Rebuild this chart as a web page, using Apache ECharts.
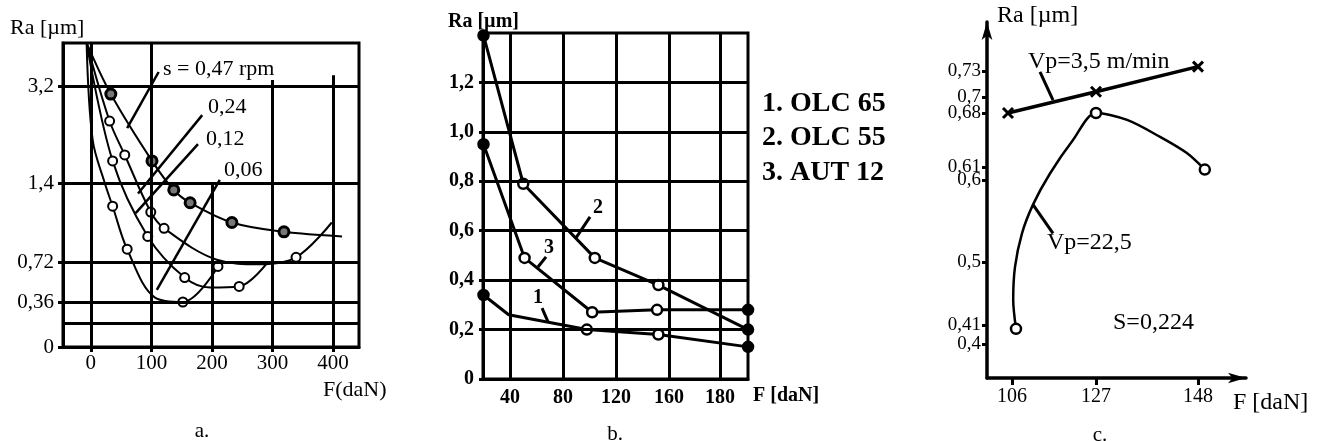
<!DOCTYPE html>
<html>
<head>
<meta charset="utf-8">
<script src="https://cdn.jsdelivr.net/npm/echarts@6/dist/echarts.min.js"></script>
<style>
html,body{margin:0;padding:0;background:#fff;}
#chart{width:1322px;height:441px;}
</style>
</head>
<body>
<div id="chart"></div>
<script>
// ================= DATA =================
// ---- Panel a: Ra vs F for several feeds s ----
const aXTicks = [0, 100, 200, 300, 400];
const aXLabels = ['0', '100', '200', '300', '400'];
const aYTicks = [0, 0.36, 0.72, 1.4, 3.2];
const aYLabels = ['0', '0,36', '0,72', '1,4', '3,2'];
const aYExtraLine = 0.19;

const a047F  = [-7, 33, 101, 137, 164, 233, 319, 415];
const a047Ra = [4.0, 3.05, 1.81, 1.34, 1.23, 1.06, 0.98, 0.94];
const a047PtF  = [33, 101, 137, 164, 233, 319];
const a047PtRa = [3.05, 1.81, 1.34, 1.23, 1.06, 0.98];

const a024F  = [-7, 31, 56, 99, 121, 208, 279, 339, 398];
const a024Ra = [4.0, 2.55, 1.92, 1.15, 1.01, 0.74, 0.70, 0.76, 1.06];
const a024PtF  = [31, 56, 99, 121, 339];
const a024PtRa = [2.55, 1.92, 1.15, 1.01, 0.76];

const a012F  = [-7, 36, 94, 155, 197, 245, 291];
const a012Ra = [4.0, 1.81, 0.94, 0.58, 0.49, 0.50, 0.71];
const a012PtF  = [36, 94, 155, 245];
const a012PtRa = [1.81, 0.94, 0.58, 0.50];

const a006F  = [-7, 3, 23, 36, 60, 106, 152, 210];
const a006Ra = [4.0, 2.2, 1.4, 1.2, 0.83, 0.40, 0.36, 0.68];
const a006PtF  = [36, 60, 152, 210];
const a006PtRa = [1.2, 0.83, 0.36, 0.68];

// ---- Panel b: three steels ----
const bXTicks = [40, 80, 120, 160, 180];
const bXLabels = ['40', '80', '120', '160', '180'];
const bYTicks = [0, 0.2, 0.4, 0.6, 0.8, 1.0, 1.2];
const bYLabels = ['0', '0,2', '0,4', '0,6', '0,8', '1,0', '1,2'];
const bLegend = ['1. OLC 65', '2. OLC 55', '3. AUT 12'];

const b1F  = [20, 39, 98, 152, 191];
const b1Ra = [0.34, 0.26, 0.20, 0.18, 0.13];
const b1PtF  = [20, 98, 152, 191];
const b1PtRa = [0.34, 0.20, 0.18, 0.13];

const b2F  = [20, 50, 104, 152, 191];
const b2Ra = [1.39, 0.79, 0.49, 0.38, 0.20];

const b3F  = [20, 51, 102, 151, 191];
const b3Ra = [0.95, 0.49, 0.27, 0.28, 0.28];

// ---- Panel c: two cutting speeds ----
const cXTicks = [106, 127, 148];
const cXLabels = ['106', '127', '148'];
const cYTicks = [0.4, 0.41, 0.5, 0.6, 0.61, 0.68, 0.7, 0.73];
const cYLabels = ['0,4', '0,41', '0,5', '0,6', '0,61', '0,68', '0,7', '0,73'];

const cV35F  = [105, 127, 148];
const cV35Ra = [0.68, 0.706, 0.735];

const cV225F  = [107, 106.3, 106.75, 108.5, 111.25, 115.5, 121.25, 127, 133.4, 140.2, 145.7, 149.4];
const cV225Ra = [0.408, 0.446, 0.493, 0.535, 0.57, 0.605, 0.645, 0.68, 0.671, 0.649, 0.628, 0.608];
const cV225PtF  = [107, 127, 149.4];
const cV225PtRa = [0.408, 0.68, 0.608];

// ================= SCALES (hand-drawn, non-uniform axes) =================
function pw(knots) {
  return function (v) {
    const n = knots.length;
    let i = 0;
    while (i < n - 2 && v > knots[i + 1][0]) i++;
    const r0 = knots[i][0], a0 = knots[i][1], r1 = knots[i + 1][0], a1 = knots[i + 1][1];
    return a0 + (v - r0) * (a1 - a0) / (r1 - r0);
  };
}
const idS = v => v;
const aYScale = pw([[0, 0], [0.36, 45], [0.72, 85], [1.4, 164], [3.2, 261]]);
const bXScale = pw([[40, 27], [160, 186], [180, 237]]);
const cXScale = pw([[106, 25], [127, 109], [148, 211]]);
const cYScale = pw([[0.4, 34], [0.41, 53], [0.5, 116], [0.6, 198], [0.61, 211], [0.68, 265], [0.7, 281], [0.73, 307]]);

// ================= HELPERS =================
const SERIF = '"Liberation Serif", "DejaVu Serif", serif';
const BLACK = '#000';

function labeler(vals, labels) {
  return function (v) {
    let best = 0;
    for (let i = 1; i < vals.length; i++) {
      if (Math.abs(vals[i] - v) < Math.abs(vals[best] - v)) best = i;
    }
    return labels[best];
  };
}
function pts(fx, fy, xs, ys) { return xs.map((x, i) => [fx(x), fy(ys[i])]); }
function seg(fx, fy, p, q) { return [{ coord: [fx(p[0]), fy(p[1])] }, { coord: [fx(q[0]), fy(q[1])] }]; }
function ML(width, data) {
  return { silent: true, symbol: ['none', 'none'], label: { show: false },
    lineStyle: { color: BLACK, width: width, type: 'solid', opacity: 1 },
    emphasis: { disabled: true }, animation: false, data: data };
}
function txt(text, x, y, size, align, weight) {
  const a = align || 'left';
  return { type: 'text', x: x, y: y, silent: true, z: 100,
    style: { text: text, fill: BLACK, fontSize: size, fontFamily: SERIF, fontWeight: weight || 'normal',
      align: a, textAlign: a, verticalAlign: 'middle', textVerticalAlign: 'middle' } };
}
function valAxis(gi, min, max, ticks, labels, scale, o) {
  const tv = ticks.map(scale);
  return {
    type: 'value', gridIndex: gi, min: min, max: max,
    splitLine: { show: false },
    axisLine: Object.assign({ show: true, onZero: false, lineStyle: { color: BLACK, width: o.lw } }, o.line || {}),
    axisTick: { show: o.tick > 0, customValues: tv, length: o.tick, inside: false, lineStyle: { color: BLACK, width: 3 } },
    axisLabel: { customValues: tv, formatter: labeler(tv, labels), color: BLACK, fontFamily: SERIF,
      fontSize: o.fs, fontWeight: o.fw || 'normal', margin: o.margin, hideOverlap: false,
      showMinLabel: true, showMaxLabel: true }
  };
}

// ================= OPTION =================
const series = [];

// ---- panel a ----
series.push({
  type: 'line', xAxisIndex: 0, yAxisIndex: 0, data: [[-46, 0]], symbol: 'none', silent: true, z: 1,
  lineStyle: { width: 0 },
  markLine: ML(3, [
    { xAxis: 0 }, { xAxis: 100 },
    seg(idS, aYScale, [200, 1.4], [200, 0]),
    seg(idS, aYScale, [300, 3.31], [300, 0]),
    seg(idS, aYScale, [400, 3.40], [400, 0])
  ].concat(aYTicks.slice(1).concat([aYExtraLine]).map(v => ({ yAxis: aYScale(v) }))))
});
series.push({
  type: 'line', xAxisIndex: 0, yAxisIndex: 0, data: [[-46, 0]], symbol: 'none', silent: true, z: 2,
  lineStyle: { width: 0 },
  markLine: ML(2.5, [
    seg(idS, aYScale, [112, 3.46], [60, 2.42]),
    seg(idS, aYScale, [184, 2.66], [78, 1.31]),
    seg(idS, aYScale, [177, 2.12], [74, 1.14]),
    seg(idS, aYScale, [213, 1.46], [109, 0.47])
  ])
});
[[a047F, a047Ra], [a024F, a024Ra], [a012F, a012Ra], [a006F, a006Ra]].forEach(c => {
  series.push({ type: 'line', xAxisIndex: 0, yAxisIndex: 0, data: pts(idS, aYScale, c[0], c[1]),
    smooth: 0.35, symbol: 'none', silent: true, z: 3, lineStyle: { color: BLACK, width: 2 } });
});
[[a047PtF, a047PtRa, true], [a024PtF, a024PtRa], [a012PtF, a012PtRa], [a006PtF, a006PtRa]].forEach(c => {
  series.push({ type: 'scatter', xAxisIndex: 0, yAxisIndex: 0, data: pts(idS, aYScale, c[0], c[1]),
    symbol: 'circle', symbolSize: c[2] ? 10 : 9, silent: true, z: 4,
    itemStyle: { color: c[2] ? '#777' : '#fff', borderColor: BLACK, borderWidth: c[2] ? 3 : 2, opacity: 1 } });
});

// ---- panel b ----
series.push({
  type: 'line', xAxisIndex: 1, yAxisIndex: 1, data: [[0, 0]], symbol: 'none', silent: true, z: 1,
  lineStyle: { width: 0 },
  markLine: ML(3, bXTicks.map(v => ({ xAxis: bXScale(v) })).concat(bYTicks.slice(1).map(v => ({ yAxis: v }))))
});
series.push({
  type: 'line', xAxisIndex: 1, yAxisIndex: 1, data: [[0, 0]], symbol: 'none', silent: true, z: 2,
  lineStyle: { width: 0 },
  markLine: ML(3, [
    seg(bXScale, idS, [100.4, 0.656], [89.8, 0.571]),
    seg(bXScale, idS, [67.2, 0.494], [61.1, 0.453]),
    seg(bXScale, idS, [64.2, 0.287], [68.7, 0.231])
  ])
});
[[b1F, b1Ra], [b2F, b2Ra], [b3F, b3Ra]].forEach(c => {
  series.push({ type: 'line', xAxisIndex: 1, yAxisIndex: 1, data: pts(bXScale, idS, c[0], c[1]),
    smooth: false, symbol: 'none', silent: true, z: 3, lineStyle: { color: BLACK, width: 3 } });
});
[[b1PtF, b1PtRa], [b2F, b2Ra], [b3F, b3Ra]].forEach(c => {
  const n = c[0].length;
  series.push({ type: 'scatter', xAxisIndex: 1, yAxisIndex: 1, data: pts(bXScale, idS, c[0], c[1]),
    symbol: 'circle', symbolSize: 10, silent: true, z: 4,
    itemStyle: { color: p => (p.dataIndex === 0 || p.dataIndex === n - 1) ? BLACK : '#fff',
      borderColor: BLACK, borderWidth: 2.5, opacity: 1 } });
});

// ---- panel c ----
series.push({
  type: 'line', xAxisIndex: 2, yAxisIndex: 2, data: [[0, 0]], symbol: 'none', silent: true, z: 2,
  lineStyle: { width: 0 },
  markLine: ML(3, [
    seg(cXScale, cYScale, [113, 0.729], [116.25, 0.696]),
    seg(cXScale, cYScale, [111.25, 0.57], [116.25, 0.535])
  ])
});
series.push({ type: 'line', xAxisIndex: 2, yAxisIndex: 2, data: pts(cXScale, cYScale, cV35F, cV35Ra),
  smooth: false, symbol: 'path://M0,0L10,10M10,0L0,10', symbolSize: 10, showSymbol: true, silent: true, z: 3,
  lineStyle: { color: BLACK, width: 3.5 },
  itemStyle: { color: 'none', borderColor: BLACK, borderWidth: 3, opacity: 1 } });
series.push({ type: 'line', xAxisIndex: 2, yAxisIndex: 2, data: pts(cXScale, cYScale, cV225F, cV225Ra),
  smooth: 0.3, symbol: 'none', silent: true, z: 3, lineStyle: { color: BLACK, width: 2.5 } });
series.push({ type: 'scatter', xAxisIndex: 2, yAxisIndex: 2, data: pts(cXScale, cYScale, cV225PtF, cV225PtRa),
  symbol: 'circle', symbolSize: 10, silent: true, z: 4,
  itemStyle: { color: '#fff', borderColor: BLACK, borderWidth: 2.5, opacity: 1 } });

const option = {
  animation: false,
  backgroundColor: '#fff',
  grid: [
    { left: 63, top: 43, width: 296, height: 304, show: true, borderColor: BLACK, borderWidth: 3, backgroundColor: 'transparent' },
    { left: 483, top: 33, width: 265, height: 346, show: true, borderColor: BLACK, borderWidth: 3, backgroundColor: 'transparent' },
    { left: 987, top: 22, width: 259, height: 356, show: false }
  ],
  xAxis: [
    valAxis(0, -46, 443, aXTicks, aXLabels, idS, { lw: 3, tick: 5, fs: 21, margin: 6 }),
    valAxis(1, 0, 265, bXTicks, bXLabels, bXScale, { lw: 3, tick: 0, fs: 20, fw: 'bold', margin: 9 }),
    valAxis(2, 0, 259, cXTicks, cXLabels, cXScale, { lw: 3.5, tick: 7, fs: 20, margin: 9,
      line: { symbol: ['none', 'arrow'], symbolSize: [8, 18] } })
  ],
  yAxis: [
    valAxis(0, 0, 304, aYTicks, aYLabels, aYScale, { lw: 3, tick: 5, fs: 21, margin: 9 }),
    valAxis(1, 0, 1.4, bYTicks, bYLabels, idS, { lw: 3, tick: 4, fs: 20, fw: 'bold', margin: 9 }),
    valAxis(2, 0, 356, cYTicks, cYLabels, cYScale, { lw: 3.5, tick: 5, fs: 19, margin: 6,
      line: { symbol: ['none', 'arrow'], symbolSize: [8, 18] } })
  ],
  series: series,
  graphic: [
    // panel a
    txt('Ra [µm]', 10, 28, 22),
    txt('F(daN)', 323, 390, 22),
    txt('a.', 202, 431, 21, 'center'),
    txt('s = 0,47 rpm', 163, 69, 22),
    txt('0,24', 208, 107, 22),
    txt('0,12', 206, 139, 22),
    txt('0,06', 224, 170, 22),
    // panel b
    txt('Ra [µm]', 448, 22, 20, 'left', 'bold'),
    txt('F [daN]', 753, 396, 20, 'left', 'bold'),
    txt('b.', 615, 434, 21, 'center'),
    txt(bLegend[0], 762, 104, 28, 'left', 'bold'),
    txt(bLegend[1], 762, 138, 28, 'left', 'bold'),
    txt(bLegend[2], 762, 173, 28, 'left', 'bold'),
    txt('2', 598, 208, 20, 'center', 'bold'),
    txt('3', 549, 248, 20, 'center', 'bold'),
    txt('1', 538, 298, 20, 'center', 'bold'),
    // panel c
    txt('Ra [µm]', 997, 16, 24),
    txt('F [daN]', 1233, 403, 24),
    txt('c.', 1100, 435, 21, 'center'),
    txt('Vp=3,5 m/min', 1028, 62, 24),
    txt('Vp=22,5', 1047, 243, 24),
    txt('S=0,224', 1113, 323, 24)
  ]
};

const chart = echarts.init(document.getElementById('chart'), null, { renderer: 'canvas' });
chart.setOption(option);
</script>
</body>
</html>
